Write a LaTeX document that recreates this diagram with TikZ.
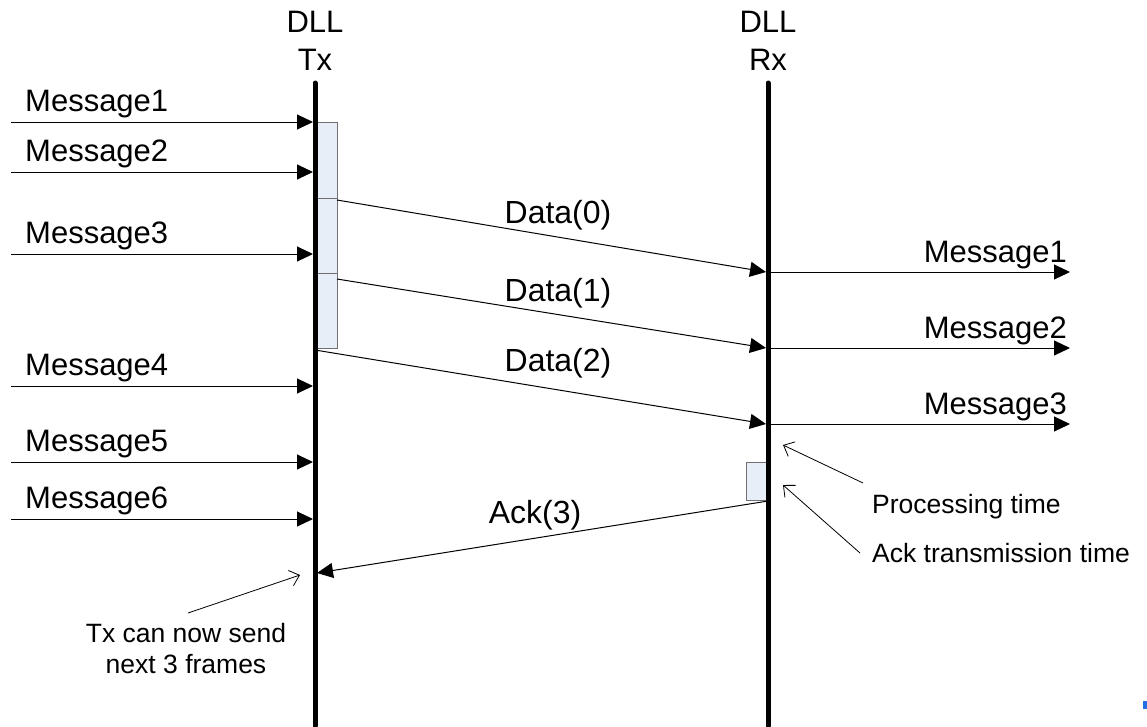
\documentclass[tikz,border=0pt]{standalone}
\usepackage{fontspec}
\setmainfont{Liberation Sans}
\usetikzlibrary{arrows.meta}
\definecolor{boxfill}{HTML}{E8EEF8}
\definecolor{boxline}{HTML}{707070}
\definecolor{slideblue}{HTML}{1F6FE0}
\tikzset{
  big/.style={font=\fontsize{31}{35}\selectfont, inner sep=0pt},
  bigger/.style={font=\fontsize{32}{36}\selectfont, inner sep=0pt},
  small/.style={font=\fontsize{26.5}{31}\selectfont, inner sep=0pt},
  life/.style={line width=5pt},
  msg/.style={line width=1pt, -{Triangle[length=16pt,width=15pt]}},
  note/.style={line width=0.8pt, -{Straight Barb[length=9pt,width=16pt]}},
  actbox/.style={draw=boxline, fill=boxfill, line width=1pt}
}
\begin{document}
\begin{tikzpicture}[x=1pt,y=-1pt]
\useasboundingbox (0,0) rectangle (1147,726);
% lifeline labels
\node[big, anchor=base] (dlltx) at (315,32) {DLL};
\node[big, anchor=base] (tx) at (315,70) {Tx};
\node[big, anchor=base] (dllrx) at (768,32) {DLL};
\node[big, anchor=base] (rx) at (768,70) {Rx};
% lifelines
\coordinate (txtop) at (315,83);
\coordinate (txbot) at (315,726);
\coordinate (rxtop) at (768,83);
\coordinate (rxbot) at (768,726);
% activation boxes
\draw[actbox] (315,122) rectangle (337,198);
\draw[actbox] (315,198) rectangle (337,273);
\draw[actbox] (315,273) rectangle (337,348);
\draw[actbox] (746,462) rectangle (768,500);
\draw[life, line cap=round] (txtop) -- (txbot);
\draw[life, line cap=round] (rxtop) -- (rxbot);
% incoming messages on Tx
\foreach \i/\y in {1/122,2/172,3/254,4/386,5/462,6/519}{
  \coordinate (min\i) at (11,\y);
  \coordinate (mtx\i) at (313,\y);
  \draw[msg] (min\i) -- (mtx\i);
  \node[big, anchor=base west] (ml\i) at (25,\y-11) {Message\i};
}
% data frames
\coordinate (d0s) at (337,200);
\coordinate (d0e) at (766,272);
\coordinate (d1s) at (337,279);
\coordinate (d1e) at (766,348);
\coordinate (d2s) at (315,350);
\coordinate (d2e) at (766,424);
\draw[msg] (d0s) -- (d0e);
\draw[msg] (d1s) -- (d1e);
\draw[msg] (d2s) -- (d2e);
\node[bigger, anchor=base] (data0) at (558,223) {Data(0)};
\node[bigger, anchor=base] (data1) at (558,301) {Data(1)};
\node[bigger, anchor=base] (data2) at (558,371) {Data(2)};
% delivered messages on Rx
\foreach \i/\y in {1/272,2/348,3/424}{
  \coordinate (rs\i) at (770,\y);
  \coordinate (re\i) at (1070,\y);
  \draw[msg] (rs\i) -- (re\i);
  \node[big, anchor=base east] (rl\i) at (1067,\y-10) {Message\i};
}
% ack
\coordinate (acks) at (768,501);
\coordinate (acke) at (317,573);
\draw[msg] (acks) -- (acke);
\node[bigger, anchor=base] (ack) at (535,523) {Ack(3)};
% annotations
\node[small, anchor=base west] (proc) at (872,513) {Processing time};
\node[small, anchor=base west] (acktt) at (872,562) {Ack transmission time};
\coordinate (proctail) at (863,483);
\coordinate (proctip) at (783,445);
\coordinate (acktail) at (860,553);
\coordinate (acktip) at (783,485);
\draw[note] (proctail) -- (proctip);
\draw[note] (acktail) -- (acktip);
\node[small, align=center, anchor=north] (txnote) at (186,623) {Tx can now send\\next 3 frames};
\coordinate (txtail) at (188,613);
\coordinate (txtip) at (300,575);
\draw[note] (txtail) -- (txtip);
% slide number fragment
\fill[slideblue] (1143,701) rectangle (1147,709);
\end{tikzpicture}
\end{document}
